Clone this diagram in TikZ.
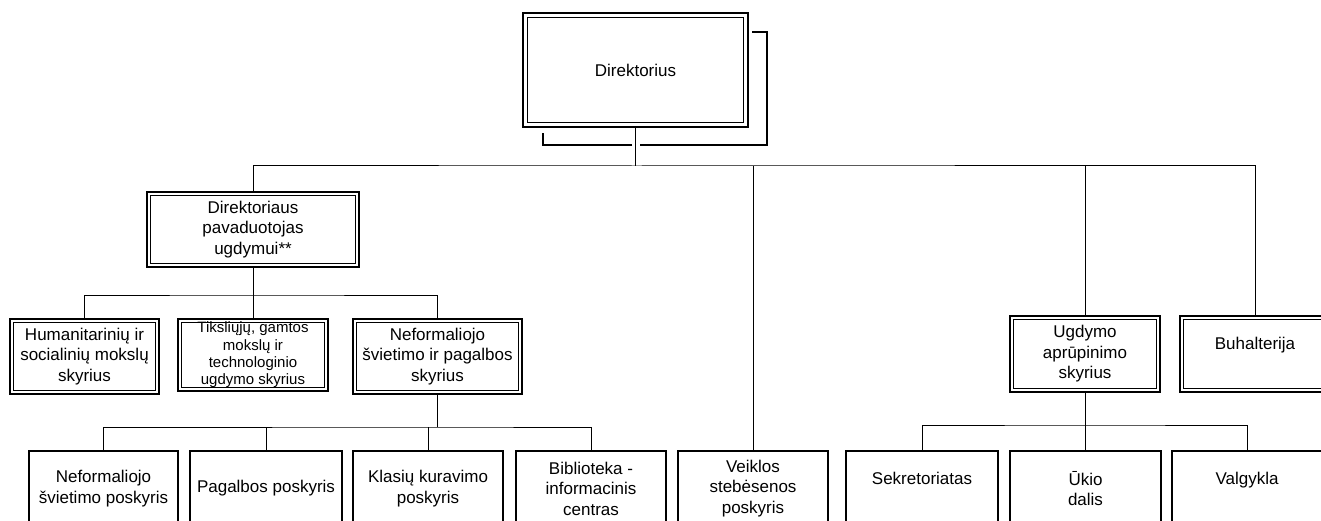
\documentclass[tikz,border=0pt]{standalone}
\usepackage{fontspec}
\setmainfont{Liberation Sans}
\begin{document}
\begin{tikzpicture}[x=1pt,y=-1pt,
  every node/.style={font=\fontsize{17}{20.5}\selectfont, align=center, inner sep=0pt, outer sep=0pt},
  sbox/.style={draw, line width=1.2pt},
  dbox/.style={draw, line width=2pt},
  sz/.style 2 args={minimum width=#1, minimum height=#2},
  conn/.style={line width=1pt}]
\fill[white] (0,0) rectangle (1321,521);
\useasboundingbox (0,0) rectangle (1321,521);

% top
\node[dbox, line width=2.3pt, sz={225pt}{114pt}] (dir) at (635.5,70) {Direktorius};
\node[dbox, sz={212pt}{75pt}] (pav) at (253,229.5) {Direktoriaus\\pavaduotojas\\ugdymui**};

% middle row
\node[dbox, sz={149pt}{75pt}] (hum) at (84.5,356.5) {Humanitarinių ir\\socialinių mokslų\\skyrius};
\node[dbox, line width=1.5pt, sz={150pt}{72pt}, font=\fontsize{15}{17.3}\selectfont] (tik) at (253,355) {Tiksliųjų, gamtos\\mokslų ir\\technologinio\\ugdymo skyrius};
\node[dbox, sz={169pt}{75pt}] (nef) at (437.5,356.5) {Neformaliojo\\švietimo ir pagalbos\\skyrius};
\node[dbox, sz={150pt}{76pt}] (ugd) at (1085,354) {Ugdymo\\aprūpinimo\\skyrius};
\node[dbox, line width=1.6pt, sz={150pt}{76pt}] (buh) at (1255,354) {Buhalterija\\~};

% bottom row
\node[sbox, sz={149pt}{75pt}] (p1) at (103.5,488.5) {Neformaliojo\\švietimo poskyris};
\node[sbox, sz={152pt}{75pt}] (p2) at (266,488.5) {Pagalbos poskyris};
\node[sbox, sz={150pt}{75pt}] (p3) at (428,488.5) {Klasių kuravimo\\poskyris};
\node[sbox, sz={150pt}{75pt}] (p4) at (591,488.5) {Biblioteka -\\informacinis\\centras};
\node[sbox, sz={150pt}{75pt}] (veik) at (753,488.5) {Veiklos\\stebėsenos\\poskyris};
\node[sbox, sz={152pt}{75pt}] (sek) at (922,488.5) {Sekretoriatas\\~};
\node[sbox, sz={151pt}{75pt}] (uki) at (1085.5,488.5) {Ūkio\\dalis};
\node[sbox, sz={150pt}{75pt}] (val) at (1247,488.5) {Valgykla\\~};

% inner lines of double frames
\draw[line width=0.9pt] ([xshift=4.5pt,yshift=-4.5pt]dir.north west) rectangle ([xshift=-4.5pt,yshift=4.5pt]dir.south east);
\foreach \n in {pav,hum,tik,nef,ugd,buh}
  \draw[line width=0.8pt] ([xshift=3.5pt,yshift=-3.5pt]\n.north west) rectangle ([xshift=-3.5pt,yshift=3.5pt]\n.south east);

% shadow bracket of the director box
\draw[line width=1.5pt] (752,32) -- (767,32) -- (767,145) -- (640,145);
\draw[line width=1.5pt] (632,145) -- (543,145) -- (543,133);

% bus coordinates
\coordinate (m) at (635.5,166);
\coordinate (b1) at (253,295);
\coordinate (b2) at (437.5,427);
\coordinate (b3) at (1085,425);

% connectors
\draw[conn] (dir.south) -- (m);
\draw[conn] (pav.north) |- (m) -| (buh.north);
\draw[conn] (veik.north) -- (veik.north |- m);
\draw[conn] (ugd.north) -- (ugd.north |- m);

\draw[conn] (pav.south) -- (tik.north);
\draw[conn] (hum.north) |- (b1) -| (nef.north);

\draw[conn] (nef.south) -- (b2);
\draw[conn] (p1.north) |- (b2) -| (p4.north);
\draw[conn] (p2.north) -- (p2.north |- b2);
\draw[conn] (p3.north) -- (p3.north |- b2);

\draw[conn] (ugd.south) -- (b3);
\draw[conn] (sek.north) |- (b3) -| (val.north);
\draw[conn] (uki.north) -- (uki.north |- b3);
\end{tikzpicture}
\end{document}
